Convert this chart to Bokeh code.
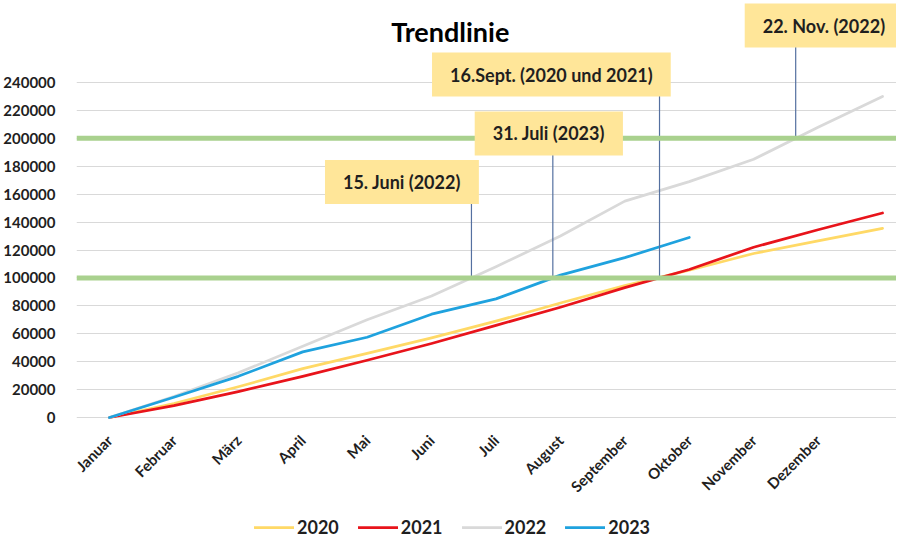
from math import pi
import numpy as np
from bokeh.plotting import figure
from bokeh.models import (Range1d, FixedTicker, Span, Label, Legend, LegendItem,
                          NumeralTickFormatter)
from bokeh.embed import file_html
from bokeh.resources import INLINE

# ---------------- data ----------------
months = ["Januar", "Februar", "März", "April", "Mai", "Juni", "Juli",
          "August", "September", "Oktober", "November", "Dezember"]
x_idx = list(range(13))          # 12 month labels + one unlabeled end point
v2020 = [0, 10000, 22000, 35000, 46000, 57000, 69000, 82000, 94500, 105500, 117500, 126500, 135500]
v2021 = [0, 8500, 18500, 29500, 41000, 53000, 66000, 79000, 93000, 106000, 122000, 134500, 146500]
v2022 = [0, 15000, 32000, 51000, 70000, 87000, 108000, 130000, 155000, 169000, 185000, 208000, 230000]
v2023 = [0, 14500, 29500, 47000, 57500, 74000, 85000, 102000, 114500, 129000]
series_names = ["2020", "2021", "2022", "2023"]
y_ticks = list(range(0, 240001, 20000))
thresholds = [100000, 200000]
ann_texts = ["15. Juni (2022)", "31. Juli (2023)", "16.Sept. (2020 und 2021)", "22. Nov. (2022)"]

FONT = "Lato"
TXT = "#1F1F1F"
colors = ["#FFD966", "#E8141B", "#D9D9D9", "#1FA2DE"]

p = figure(width=896, height=538, output_backend="svg", toolbar_location=None,
           x_range=Range1d(-0.5116, 12.217), y_range=Range1d(-86687, 298747),
           min_border_left=75, min_border_right=0, min_border_top=0, min_border_bottom=0)
p.outline_line_color = None
p.background_fill_color = "white"
p.border_fill_color = "white"

# grid / axes
p.xgrid.grid_line_color = None
p.ygrid.grid_line_color = "#D9D9D9"
p.ygrid.grid_line_width = 1
p.yaxis.ticker = FixedTicker(ticks=y_ticks)
p.yaxis.formatter = NumeralTickFormatter(format="0")
p.yaxis.axis_line_color = None
p.yaxis.major_tick_line_color = None
p.yaxis.minor_tick_line_color = None
p.yaxis.major_label_text_font = FONT
p.yaxis.major_label_text_font_size = "15px"
p.yaxis.major_label_text_font_style = "bold"
p.yaxis.major_label_text_color = TXT
p.yaxis.major_label_standoff = 15

p.xaxis.fixed_location = 0
p.xaxis.ticker = FixedTicker(ticks=list(range(len(months))))
p.xaxis.major_label_overrides = {i: m for i, m in enumerate(months)}
p.xaxis.major_label_orientation = pi / 4
p.xaxis.axis_line_color = None
p.xaxis.major_tick_line_color = None
p.xaxis.minor_tick_line_color = None
p.xaxis.major_label_text_font = FONT
p.xaxis.major_label_text_font_size = "15px"
p.xaxis.major_label_text_font_style = "bold"
p.xaxis.major_label_text_color = TXT
p.xaxis.major_label_standoff = 14

# lines
all_vals = [v2020, v2021, v2022, v2023]
renderers = []
for name, vals, col in zip(series_names, all_vals, colors):
    r = p.line(x_idx[:len(vals)], vals, line_color=col, line_width=2.75,
               line_join="round", line_cap="round")
    renderers.append(r)

# threshold crossings (connector positions) derived from data
c22a = float(np.interp(thresholds[0], v2022, x_idx))
c23 = float(np.interp(thresholds[0], v2023, x_idx[:len(v2023)]))
c2021 = max(float(np.interp(thresholds[0], v2020, x_idx)),
            float(np.interp(thresholds[0], v2021, x_idx)))
c22b = float(np.interp(thresholds[1], v2022, x_idx))

box_pos = [(4.54, 168700), (6.82, 203500), (6.86, 245700), (11.09, 280800)]
conn_x = [c22a, c23, c2021, c22b]
conn_y = [thresholds[0], thresholds[0], thresholds[0], thresholds[1]]
conn_top = [by for _, by in box_pos]
p.segment(x0=conn_x, y0=conn_y, x1=conn_x, y1=conn_top, line_color="#5470A0", line_width=1.2)

for t in thresholds:
    p.add_layout(Span(location=t, dimension="width", line_color="#A9D18E", line_width=5))

for (bx, by), txt in zip(box_pos, ann_texts):
    p.add_layout(Label(x=bx, y=by, text=txt, text_align="center", text_baseline="middle",
                       text_font=FONT, text_font_style="bold", text_font_size="18px",
                       text_color=TXT, background_fill_color="#FFE699",
                       padding=(18, 11)))

p.add_layout(Label(x=5.29, y=276500, text="Trendlinie", text_align="center",
                   text_baseline="middle", text_font=FONT, text_font_style="bold",
                   text_font_size="27px", text_color="#000000"))

legend = Legend(items=[LegendItem(label=n, renderers=[r]) for n, r in zip(series_names, renderers)],
                orientation="horizontal", location=(178, 0), glyph_width=40, glyph_height=20,
                label_standoff=3, spacing=19, padding=0, margin=0,
                border_line_color=None, background_fill_alpha=0,
                label_text_font=FONT, label_text_font_size="18px",
                label_text_font_style="bold", label_text_color=TXT)
p.add_layout(legend)

open("out.html", "w").write(file_html(p, INLINE))
